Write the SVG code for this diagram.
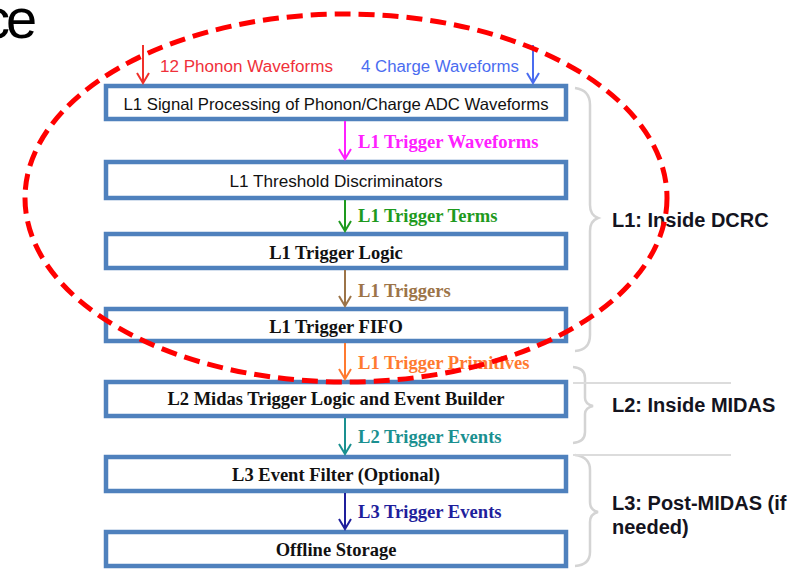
<svg xmlns="http://www.w3.org/2000/svg" width="804" height="569" viewBox="0 0 804 569">
<style>
.box{fill:#fff;stroke:#4F81BD;stroke-width:4.5}
.sans{font-family:"Liberation Sans",Arial,sans-serif}
.serif{font-family:"Liberation Serif","Times New Roman",serif}
.bt{font-size:18.5px;font-weight:bold;fill:#111;text-anchor:middle}
.lbl{font-size:18.6px;font-weight:bold;font-family:"Liberation Serif","Times New Roman",serif}
.grp{font-family:"Liberation Sans",Arial,sans-serif;font-size:20px;font-weight:bold;fill:#14141e}
.brace{fill:none;stroke:#D4D4D4;stroke-width:2.5}
.conn line,.conn path{fill:none;stroke-width:2}
</style>
<text x="-18 6" y="38" class="sans" font-size="56" fill="#000">ce</text>
<g id="n1"><rect class="box" x="106" y="86" width="460" height="33"/><text class="sans" x="336" y="110" font-size="16.5" text-anchor="middle" fill="#111" textLength="425" lengthAdjust="spacingAndGlyphs">L1 Signal Processing of Phonon/Charge ADC Waveforms</text></g>
<g id="n2"><rect class="box" x="106" y="162" width="460" height="36"/><text class="sans" x="336" y="187" font-size="16" text-anchor="middle" fill="#111" textLength="213" lengthAdjust="spacingAndGlyphs">L1 Threshold Discriminators</text></g>
<g id="n3"><rect class="box" x="106" y="234" width="460" height="34"/><text class="serif bt" x="336" y="259">L1 Trigger Logic</text></g>
<g id="n4"><rect class="box" x="106" y="309" width="460" height="32"/><text class="serif bt" x="336" y="333">L1 Trigger FIFO</text></g>
<g id="n5"><rect class="box" x="106" y="382" width="460" height="34"/><text class="serif bt" x="336" y="405">L2 Midas Trigger Logic and Event Builder</text></g>
<g id="n6"><rect class="box" x="106" y="457" width="460" height="34"/><text class="serif bt" x="336" y="481">L3 Event Filter (Optional)</text></g>
<g id="n7"><rect class="box" x="106" y="532" width="460" height="34"/><text class="serif bt" x="336" y="556">Offline Storage</text></g>
<g id="connectors" class="conn">
<g stroke="#F0302A"><line x1="143" y1="45" x2="143" y2="83"/><path d="M137,73 L143,83 L149,73"/></g>
<text class="sans" x="160" y="72" font-size="16" fill="#F0303A" textLength="173" lengthAdjust="spacingAndGlyphs">12 Phonon Waveforms</text>
<g stroke="#4A6CF0"><line x1="533" y1="45" x2="533" y2="83"/><path d="M527,73 L533,83 L539,73"/></g>
<text class="sans" x="361" y="72" font-size="16" fill="#4A6CF0" textLength="158" lengthAdjust="spacingAndGlyphs">4 Charge Waveforms</text>
<g stroke="#FF20FF"><line x1="345" y1="121" x2="345" y2="159"/><path d="M339,149 L345,159 L351,149"/></g>
<text class="lbl" x="358" y="148" fill="#FF20FF">L1 Trigger Waveforms</text>
<g stroke="#1E9A1E"><line x1="345" y1="200" x2="345" y2="231"/><path d="M339,221 L345,231 L351,221"/></g>
<text class="lbl" x="358" y="222" fill="#1E9A1E">L1 Trigger Terms</text>
<g stroke="#9C7448"><line x1="345" y1="270" x2="345" y2="306"/><path d="M339,296 L345,306 L351,296"/></g>
<text class="lbl" x="358" y="297" fill="#9C7448">L1 Triggers</text>
<g stroke="#FF7A30"><line x1="345" y1="343" x2="345" y2="379"/><path d="M339,369 L345,379 L351,369"/></g>
<text class="lbl" x="358" y="369" fill="#FF7A30">L1 Trigger Primitives</text>
<g stroke="#1A9090"><line x1="345" y1="418" x2="345" y2="454"/><path d="M339,444 L345,454 L351,444"/></g>
<text class="lbl" x="358" y="443" fill="#1A9090">L2 Trigger Events</text>
<g stroke="#1F1F9C"><line x1="345" y1="493" x2="345" y2="529"/><path d="M339,519 L345,529 L351,519"/></g>
<text class="lbl" x="358" y="518" fill="#1F1F9C">L3 Trigger Events</text>
</g>
<g id="g1"><path class="brace" d="M575,88 Q590,90 590,105 L590,205 Q590,215 598,218 Q590,221 590,231 L590,335 Q590,350 575,351"/><text class="grp" x="612" y="227">L1: Inside DCRC</text></g>
<g id="g2"><path class="brace" d="M573,367 Q585,368 585,378 L585,398 Q585,404 593,406 Q585,408 585,414 L585,432 Q585,442 573,443"/><line x1="573" y1="383" x2="731" y2="383" stroke="#DCDCDC" stroke-width="2"/><text class="grp" x="612" y="412">L2: Inside MIDAS</text></g>
<g id="g3"><path class="brace" d="M575,455 Q590,457 590,470 L590,502 Q590,510 598,512 Q590,514 590,522 L590,552 Q590,565 575,566"/><line x1="573" y1="455" x2="731" y2="455" stroke="#DCDCDC" stroke-width="2"/><text class="grp" x="612" y="510">L3: Post-MIDAS (if</text><text class="grp" x="612" y="534">needed)</text></g>
<ellipse cx="346" cy="198" rx="321" ry="184" fill="none" stroke="#FF0000" stroke-width="5" stroke-dasharray="16 8"/>
</svg>
